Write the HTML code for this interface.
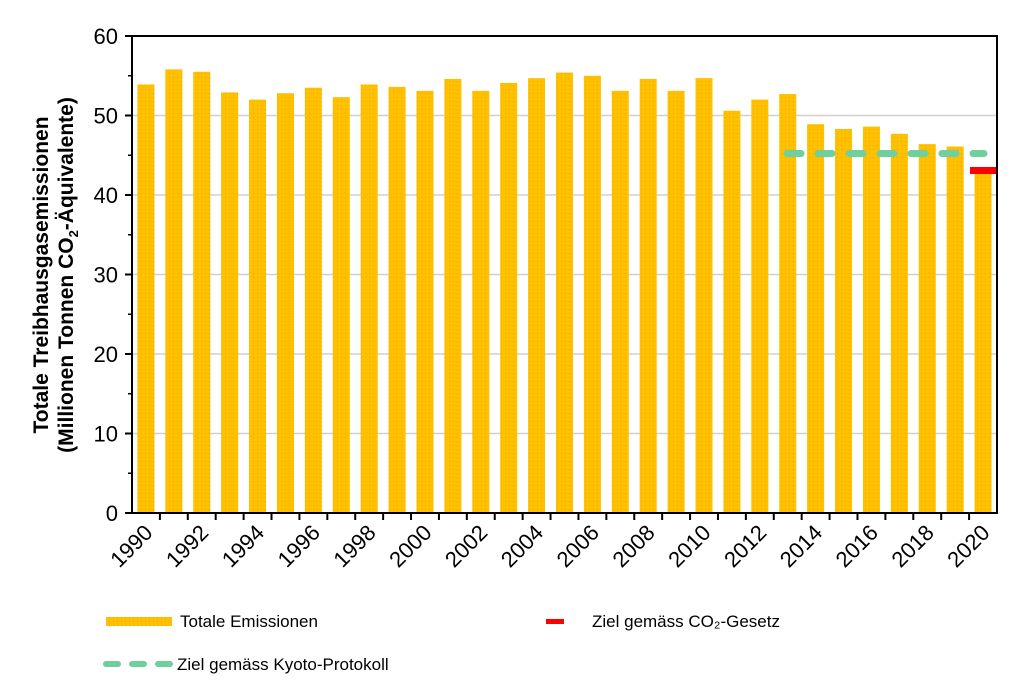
<!DOCTYPE html>
<html><head><meta charset="utf-8"><style>body{margin:0;background:#fff}svg{display:block}</style></head>
<body>
<svg width="1024" height="690" viewBox="0 0 1024 690" xmlns="http://www.w3.org/2000/svg" font-family="Liberation Sans, Arial, sans-serif">
<defs><pattern id="p" width="4" height="4" patternUnits="userSpaceOnUse"><rect width="4" height="4" fill="#ffc000"/><rect x="1" y="1" width="1" height="1" fill="#f2a800"/></pattern></defs>
<g id="grid" stroke="#d0d0d0" stroke-width="1.5">
<line x1="132" x2="997" y1="433.5" y2="433.5"/><line x1="132" x2="997" y1="354" y2="354"/><line x1="132" x2="997" y1="274.5" y2="274.5"/><line x1="132" x2="997" y1="195" y2="195"/><line x1="132" x2="997" y1="115.5" y2="115.5"/>
</g>
<g id="bars"></g>
<line x1="787" x2="984" y1="153.5" y2="153.5" stroke="#6fcf9f" stroke-width="7" stroke-linecap="round" stroke-dasharray="14 17"/>
<rect x="970" y="167" width="27" height="7" fill="#ff0000"/>
<rect x="132" y="36" width="865" height="477" fill="none" stroke="#000" stroke-width="2"/>
<g id="ax" font-size="22" fill="#000"></g>
<text transform="translate(48,275) rotate(-90)" text-anchor="middle" font-weight="bold" font-size="21">Totale Treibhausgasemissionen</text>
<text transform="translate(73,275) rotate(-90)" text-anchor="middle" font-weight="bold" font-size="21">(Millionen  Tonnen CO<tspan font-size="13" dy="5">2</tspan><tspan dy="-5">-Äquivalente)</tspan></text>
<rect x="106" y="617" width="66" height="9" fill="url(#p)"/>
<text x="180" y="627" font-size="17">Totale Emissionen</text>
<rect x="546" y="619" width="18" height="5" fill="#ff0000"/>
<text x="592" y="627" font-size="17">Ziel gemäss CO₂-Gesetz</text>
<line x1="106" x2="170" y1="664" y2="664" stroke="#6fcf9f" stroke-width="6" stroke-linecap="round" stroke-dasharray="12 14"/>
<text x="177" y="670" font-size="17">Ziel gemäss Kyoto-Protokoll</text>
</svg>
<script>
var v=[53.9,55.8,55.5,52.9,52.0,52.8,53.5,52.3,53.9,53.6,53.1,54.6,53.1,54.1,54.7,55.4,55.0,53.1,54.6,53.1,54.7,50.6,52.0,52.7,48.9,48.3,48.6,47.7,46.4,46.1,43.1];
var ns="http://www.w3.org/2000/svg",b=document.getElementById('bars'),a=document.getElementById('ax');
var s=865/31,k=477/60;
function el(t,at,p){var e=document.createElementNS(ns,t);for(var i in at)e.setAttribute(i,at[i]);p.appendChild(e);return e;}
v.forEach(function(d,i){var x=132+i*s+s/2-8.5,h=d*k;el('rect',{x:x,y:513-h,width:17,height:h,fill:'url(#p)'},b);
if(i>0)el('line',{x1:132+i*s,x2:132+i*s,y1:513,y2:520,stroke:'#000','stroke-width':2},a);
if(i%2==0){var cx=132+i*s+s/2+8,cy=534;var t=el('text',{x:cx,y:cy,'text-anchor':'end',transform:'rotate(-45 '+cx+' '+cy+')'},a);t.textContent=1990+i;}});
for(var j=0;j<=60;j+=10){var y=513-j*k;var t=el('text',{x:118,y:y+8,'text-anchor':'end'},a);t.textContent=j;el('line',{x1:125,x2:132,y1:y,y2:y,stroke:'#000','stroke-width':2},a);}
for(var j=5;j<60;j+=10){var y=513-j*k;el('line',{x1:128,x2:132,y1:y,y2:y,stroke:'#000','stroke-width':1.5},a);}
</script>
</body></html>
